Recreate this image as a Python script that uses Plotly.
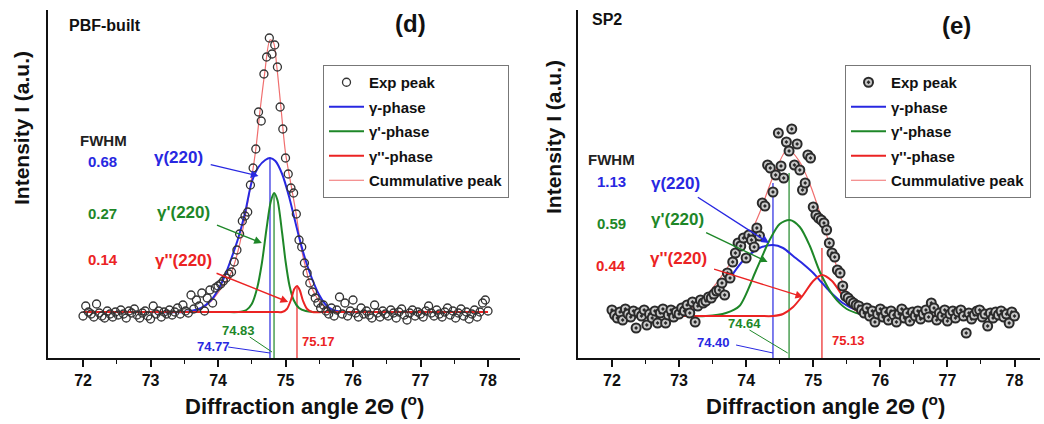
import numpy as np
import plotly.graph_objects as go

# ---------------- data (arbitrary intensity units) -------------
# experimental points: measured on a regular 2-theta grid
exp_x = np.round(np.arange(72.0, 78.0001, 0.04), 2)

left_exp_y = [42, 52, 46, 44, 41, 54, 45, 42, 40, 47,
              44, 41, 46, 43, 48, 44, 40, 47, 45, 49,
              43, 40, 45, 47, 42, 39, 52, 44, 47, 41,
              46, 44, 48, 43, 46, 50, 44, 53, 47, 45,
              63, 49, 58, 52, 65, 47, 60, 68, 55, 70,
              72, 74, 77, 80, 84, 86, 96, 108, 124, 137,
              142, 146, 173, 190, 209, 246, 237, 284, 301, 320,
              304, 313, 291, 251, 229, 200, 184, 170, 165, 144,
              118, 111, 95, 85, 75, 66, 60, 55, 50, 53,
              47, 44, 50, 42, 48, 61, 44, 55, 42, 47,
              58, 45, 41, 50, 44, 47, 43, 40, 53, 45,
              41, 47, 44, 42, 48, 45, 40, 46, 49, 43,
              38, 45, 48, 42, 46, 44, 41, 47, 52, 45,
              42, 48, 44, 41, 46, 50, 43, 47, 40, 45,
              49, 42, 46, 39, 44, 48, 41, 46, 55, 58,
              47]

right_exp_y = [48, 43, 40, 46, 38, 49, 44, 41, 47, 30,
               45, 42, 48, 33, 44, 40, 47, 35, 45, 49,
               35, 43, 48, 41, 46, 44, 50, 47, 53, 45,
               56, 36, 52, 58, 55, 57, 61, 60, 64, 67,
               68, 75, 63, 85, 80, 96, 105, 115, 112, 120,
               100, 123, 118, 111, 130, 122, 155, 152, 193, 190,
               166, 183, 225, 192, 180, 216, 207, 229, 193, 214,
               188, 168, 175, 203, 200, 151, 143, 140, 138, 135,
               128, 115, 105, 101, 88, 85, 72, 62, 60, 57,
               55, 53, 52, 48, 45, 50, 42, 47, 36, 44,
               49, 41, 46, 38, 47, 43, 36, 44, 49, 40,
               45, 37, 46, 42, 47, 39, 44, 48, 41, 55,
               50, 38, 45, 42, 48, 37, 44, 47, 40, 46,
               48, 42, 25, 45, 39, 43, 47, 48, 41, 44,
               32, 45, 40, 46, 43, 47, 41, 44, 35, 46,
               42]

# fitted components, left panel (PBF-built)
l_g_x = [72.0, 73.0, 73.5, 73.75, 73.9, 74.0, 74.1, 74.2, 74.3, 74.4, 74.5, 74.6, 74.7, 74.77,
         74.85, 74.95, 75.05, 75.12, 75.2, 75.31, 75.4, 75.5, 75.6, 75.7, 75.85, 76.2, 78.0]
l_g_y = [46, 46, 46, 50, 58, 68, 82, 100, 120, 145, 176, 191, 198, 200,
         197, 184, 162, 143, 121, 95, 78, 63, 53, 48, 46, 46, 46]
l_gp_x = [72.0, 73.5, 74.1, 74.3, 74.42, 74.5, 74.58, 74.65, 74.72, 74.78, 74.83, 74.88, 74.95,
          75.0, 75.06, 75.12, 75.2, 75.3, 75.4, 75.6, 76.2, 78.0]
l_gp_y = [46, 46, 46, 46, 48, 54, 70, 95, 130, 156, 165, 158, 125,
          97, 72, 58, 50, 47, 46, 46, 46, 46]
l_gpp_x = [72.0, 73.0, 74.0, 74.6, 74.85, 74.95, 75.02, 75.08, 75.13, 75.17, 75.21, 75.26, 75.32,
           75.4, 75.55, 76.0, 77.0, 78.0]
l_gpp_y = [46, 46, 46, 46, 46, 46, 49, 58, 69, 72, 68, 57, 49,
           46, 46, 46, 46, 46]
l_cum_x = [72.0, 73.0, 73.5, 73.7, 73.9, 74.05, 74.2, 74.3, 74.4, 74.48, 74.56, 74.62, 74.69, 74.77,
           74.82, 74.87, 74.93, 75.0, 75.09, 75.16, 75.23, 75.3, 75.36, 75.45, 75.52, 75.6, 75.7,
           75.85, 76.2, 77.0, 78.0]
l_cum_y = [46, 46, 46, 48, 57, 70, 86, 108, 140, 172, 209, 246, 284, 318,
           316, 292, 252, 205, 170, 143, 111, 90, 75, 62, 55, 50, 47,
           46, 46, 46, 46]

# fitted components, right panel (SP2)
r_g_x = [72.0, 72.6, 72.9, 73.2, 73.45, 73.7, 73.95, 74.2, 74.4, 74.55, 74.7, 74.85, 75.0, 75.12,
         75.24, 75.44, 75.64, 75.9, 76.2, 77.0, 78.0]
r_g_y = [42, 42, 43, 47, 58, 75, 97, 110, 113, 110, 102, 94, 85, 76,
         67, 55, 48, 44, 42, 42, 42]
r_gp_x = [72.0, 73.0, 73.4, 73.7, 73.9, 74.15, 74.35, 74.5, 74.65, 74.8, 74.95, 75.1, 75.3, 75.5,
          75.7, 75.9, 76.3, 77.0, 78.0]
r_gp_y = [42, 42, 42, 45, 52, 88, 118, 134, 138, 131, 112, 86, 62, 49,
          44, 42, 42, 42, 42]
r_gpp_x = [72.0, 73.0, 73.8, 74.2, 74.4, 74.55, 74.7, 74.85, 75.0, 75.13, 75.28, 75.44, 75.59,
           75.74, 75.9, 76.3, 77.0, 78.0]
r_gpp_y = [42, 42, 42, 42, 42, 44, 51, 63, 77, 83, 77, 62, 50,
           44, 42, 42, 42, 42]
r_cum_x = [72.0, 72.5, 72.8, 73.1, 73.31, 73.56, 73.9, 74.05, 74.2, 74.4, 74.62, 74.8, 74.95, 75.1,
           75.25, 75.4, 75.55, 75.7, 75.9, 76.2, 77.0, 78.0]
r_cum_y = [42, 42, 43, 47, 55, 75, 108, 123, 145, 181, 209, 196, 174, 145,
           112, 82, 60, 48, 43, 42, 42, 42]

# peak centres and the height each drop line reaches
left_centres = [74.77, 74.83, 75.17]
left_drop_top = [200, 165, 72]
right_centres = [74.40, 74.64, 75.13]
right_drop_top = [175, 185, 110]

left_fwhm = ["0.68", "0.27", "0.14"]
right_fwhm = ["1.13", "0.59", "0.44"]
phase_labels = ["γ(220)", "γ'(220)", "γ''(220)"]
legend_names = ["Exp peak", "γ-phase", "γ'-phase", "γ''-phase", "Cummulative peak"]
tick_vals = [72, 73, 74, 75, 76, 77, 78]

# ---------------- styling ----------------
BLUE = "rgb(40,40,225)"
GREEN = "rgb(30,135,40)"
RED = "rgb(235,35,35)"
CUM = "rgb(240,110,110)"
FONT = "Arial, Liberation Sans, sans-serif"
cols = [BLUE, GREEN, RED]

W, H = 1044, 424
def px_x(p): return p / W
def px_y(p): return 1 - p / H

fig = go.Figure()

panels = [
    dict(xa="x", ya="y", leg="legend", exp_y=left_exp_y,
         comps=[(l_g_x, l_g_y), (l_gp_x, l_gp_y), (l_gpp_x, l_gpp_y)],
         cum=(l_cum_x, l_cum_y), centres=left_centres, tops=left_drop_top,
         marker=dict(symbol="circle-open", size=8, color="#333333", line=dict(width=1.3, color="#333333"))),
    dict(xa="x2", ya="y2", leg="legend2", exp_y=right_exp_y,
         comps=[(r_g_x, r_g_y), (r_gp_x, r_gp_y), (r_gpp_x, r_gpp_y)],
         cum=(r_cum_x, r_cum_y), centres=right_centres, tops=right_drop_top,
         marker=dict(symbol="circle-dot", size=9, color="#c8c8c8", line=dict(width=2, color="#2a2a2a"))),
]

for pi, p in enumerate(panels):
    for c, t, col in zip(p["centres"], p["tops"], cols):
        fig.add_trace(go.Scatter(x=[c, c], y=[0, t], mode="lines", line=dict(color=col, width=1.2),
                                 xaxis=p["xa"], yaxis=p["ya"], showlegend=False, hoverinfo="skip"))
    fig.add_trace(go.Scatter(x=p["cum"][0], y=p["cum"][1], mode="lines",
                             line=dict(color=CUM, width=1.2, shape="spline", smoothing=0.8),
                             name="<b>" + legend_names[4] + "</b>", legend=p["leg"],
                             legendgroup=f"p{pi}c", legendrank=5, xaxis=p["xa"], yaxis=p["ya"]))
    for k, ((cx, cy), col) in enumerate(zip(p["comps"], cols)):
        fig.add_trace(go.Scatter(x=cx, y=cy, mode="lines",
                                 line=dict(color=col, width=2, shape="spline", smoothing=0.8),
                                 name="<b>" + legend_names[k + 1] + "</b>", legend=p["leg"],
                                 legendgroup=f"p{pi}g{k}", legendrank=k + 2,
                                 xaxis=p["xa"], yaxis=p["ya"]))
    fig.add_trace(go.Scatter(x=exp_x, y=p["exp_y"], mode="markers", marker=p["marker"],
                             name="<b>" + legend_names[0] + "</b>", legend=p["leg"],
                             legendgroup=f"p{pi}e", legendrank=1, xaxis=p["xa"], yaxis=p["ya"]))

ann = []
shapes = []

def txt(x, y, s, color, size, xref="x", yref="y", **kw):
    d = dict(x=x, y=y, xref=xref, yref=yref, text=s, showarrow=False,
             xanchor="center", yanchor="middle",
             font=dict(family=FONT, size=size, color=color, weight="bold"))
    d.update(kw)
    ann.append(d)

def arrow_label(lx, ly, tx, ty, s, color, xr, yr):
    # label sits at (lx, ly); arrow leaves the label box and points at (tx, ty)
    ann.append(dict(x=tx, y=ty, ax=lx, ay=ly, xref=xr, yref=yr, axref=xr, ayref=yr,
                    text=s, font=dict(family=FONT, size=17, color=color, weight="bold"),
                    showarrow=True, arrowhead=2, arrowsize=1.1, arrowwidth=1.4,
                    arrowcolor=color, standoff=0, startstandoff=6))

def leader(x0, y0, x1, y1, color, xr, yr):
    shapes.append(dict(type="line", x0=x0, y0=y0, x1=x1, y1=y1, xref=xr, yref=yr,
                       line=dict(color=color, width=1)))

# ---- left panel annotations ----
txt(72.31, 218, "FWHM", "#222", 15)
for v, yy, col in zip(left_fwhm, [197, 145, 99], cols):
    txt(72.29, yy, v, col, 15)
arrow_label(73.42, 201, 74.60, 182, phase_labels[0], BLUE, "x", "y")
arrow_label(73.49, 146, 74.65, 115, phase_labels[1], GREEN, "x", "y")
arrow_label(73.49, 98, 75.04, 56, phase_labels[2], RED, "x", "y")
txt(73.93, 12, f"{left_centres[0]:.2f}", BLUE, 13)
txt(74.30, 28, f"{left_centres[1]:.2f}", GREEN, 13)
txt(75.49, 17, f"{left_centres[2]:.2f}", RED, 13)
leader(74.15, 11, 74.77, 5, BLUE, "x", "y")
leader(74.47, 21, 74.80, 6, GREEN, "x", "y")

# ---- right panel annotations ----
txt(72.0, 199, "FWHM", "#222", 15, "x2", "y2")
for v, yy, col in zip(right_fwhm, [177, 135, 93], cols):
    txt(71.99, yy, v, col, 15, "x2", "y2")
arrow_label(72.95, 175, 74.34, 115, phase_labels[0], BLUE, "x2", "y2")
arrow_label(72.98, 139, 74.32, 96, phase_labels[1], GREEN, "x2", "y2")
arrow_label(72.99, 100, 74.85, 61, phase_labels[2], RED, "x2", "y2")
txt(73.51, 16, f"{right_centres[0]:.2f}", BLUE, 13, "x2", "y2")
txt(73.98, 35, f"{right_centres[1]:.2f}", GREEN, 13, "x2", "y2")
txt(75.52, 18, f"{right_centres[2]:.2f}", RED, 13, "x2", "y2")
leader(73.85, 13, 74.40, 5, BLUE, "x2", "y2")
leader(74.05, 28, 74.62, 5, GREEN, "x2", "y2")

# ---- titles (paper coordinates) ----
txt(px_x(67), px_y(25), "PBF-built", "#111", 16, "paper", "paper", xanchor="left")
txt(px_x(410), px_y(24), "(d)", "#111", 24, "paper", "paper")
txt(px_x(590), px_y(20), "SP2", "#111", 16, "paper", "paper", xanchor="left")
txt(px_x(956), px_y(25), "(e)", "#111", 24, "paper", "paper")
for cx in (304, 825):
    txt(px_x(cx), px_y(405), "Diffraction angle 2Θ (<sup>o</sup>)", "#111", 22, "paper", "paper")
for cx, cy in ((22, 128), (553, 137)):
    txt(px_x(cx), px_y(cy), "Intensity I (a.u.)", "#111", 21, "paper", "paper", textangle=-90)

xax_common = dict(showline=True, linewidth=2, linecolor="#111", ticks="outside", ticklen=7,
                  tickwidth=1.5, tickcolor="#111", tickvals=tick_vals, showgrid=False, zeroline=False,
                  tickfont=dict(family=FONT, size=16, color="#111", weight="bold"),
                  minor=dict(ticks="outside", ticklen=4, tickwidth=1.2, tickcolor="#111",
                             tickvals=[72.5, 73.5, 74.5, 75.5, 76.5, 77.5], showgrid=False))
yax_common = dict(showline=True, linewidth=2, linecolor="#111", ticks="", showticklabels=False,
                  showgrid=False, zeroline=False, range=[0, 348])
ydom = [px_y(358), px_y(10)]

leg_common = dict(bgcolor="white", bordercolor="#777", borderwidth=1, tracegroupgap=2,
                  itemwidth=35, xanchor="left", yanchor="top",
                  font=dict(family=FONT, size=15, color="#111"))

fig.update_layout(
    width=W, height=H, paper_bgcolor="white", plot_bgcolor="white",
    margin=dict(l=0, r=0, t=0, b=0, autoexpand=False),
    xaxis=dict(domain=[px_x(48), px_x(520)], range=[71.481, 78.474], anchor="y", **xax_common),
    xaxis2=dict(domain=[px_x(578), px_x(1040)], range=[71.494, 78.38], anchor="y2", **xax_common),
    yaxis=dict(domain=ydom, anchor="x", **yax_common),
    yaxis2=dict(domain=ydom, anchor="x2", **yax_common),
    legend=dict(x=px_x(323), y=px_y(65), **leg_common),
    legend2=dict(x=px_x(845), y=px_y(65), **leg_common),
    annotations=ann, shapes=shapes,
)

fig.write_html("out.html", config={"displayModeBar": False},
               post_script="document.body.style.margin='0';document.body.style.overflow='hidden';")
